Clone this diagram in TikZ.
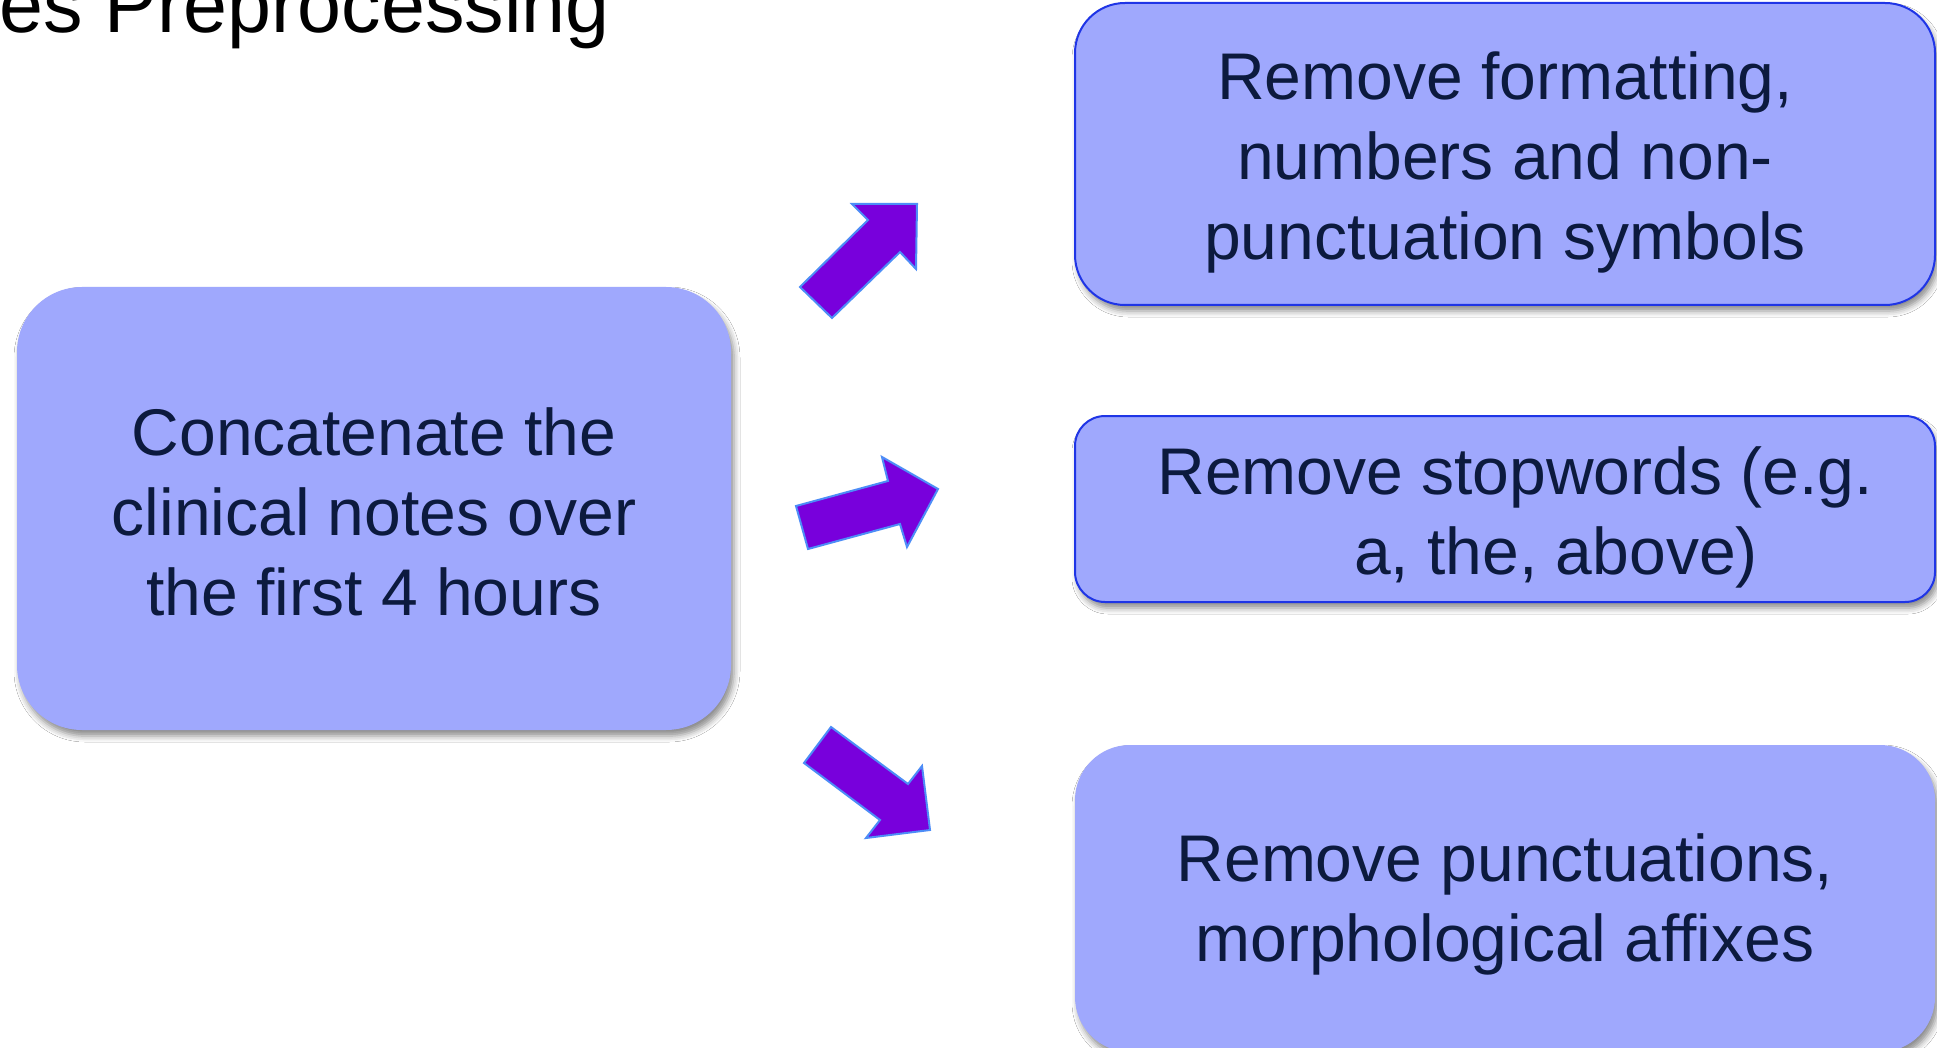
\documentclass[tikz,border=0pt]{standalone}
\usepackage{fontspec}
\setmainfont{Liberation Sans}
\usetikzlibrary{shadows.blur}

\definecolor{boxfill}{HTML}{9FA8FD}
\definecolor{boxline}{HTML}{1F35E6}
\definecolor{inktext}{HTML}{0C1A3E}
\definecolor{arrowfill}{HTML}{7800DC}
\definecolor{arrowline}{HTML}{4D8DF7}

\begin{document}
\begin{tikzpicture}[x=1pt,y=-1pt,
  stepbox/.style={fill=boxfill, inner sep=0pt,
    blur shadow={shadow xshift=3pt, shadow yshift=-6pt,
                 shadow blur radius=6pt, shadow opacity=45}},
  steptext/.style={text=inktext, align=center, inner sep=0pt,
    font=\fontsize{66}{80}\selectfont},
  outlined/.style={draw=boxline, line width=2pt},
  blockarrow/.style={fill=arrowfill, draw=arrowline, line width=2pt, line join=miter}
]
\useasboundingbox (0,0) rectangle (1937,1048);
\clip (0,0) rectangle (1937,1048);
\fill[white] (0,0) rectangle (1937,1048);

% slide title (partly outside the frame)
\node[font=\fontsize{79}{90}\selectfont, anchor=base east, inner sep=0pt] (title)
  at (610,33) {es Preprocessing};

% source step
\node[stepbox, minimum width=714pt, minimum height=443pt, rounded corners=65pt]
  (concat) at (374,508.5) {};
\node[steptext] (concattext) at ([yshift=-3pt]concat.center)
  {Concatenate the\\clinical notes over\\the first 4 hours};

% cleaning steps
\node[stepbox, outlined, minimum width=860pt, minimum height=302pt, rounded corners=50pt]
  (format) at (1505,154) {};
\node[steptext] (formattext) at ([yshift=-8pt]format.center)
  {Remove formatting,\\numbers and non-\\punctuation symbols};

\node[stepbox, outlined, minimum width=860pt, minimum height=186pt, rounded corners=30pt]
  (stop) at (1505,509) {};
\node[steptext] (stoptext) at ([yshift=-8pt]stop.center)
  {\hspace*{20pt}Remove stopwords (e.g.\\\hspace*{102pt}a, the, above)};

\node[stepbox, minimum width=860pt, minimum height=307pt, rounded corners=55pt]
  (punct) at (1505,898.5) {};
\node[steptext] (puncttext) at ([yshift=-6pt]punct.center)
  {Remove punctuations,\\morphological affixes};

% block arrows
\draw[blockarrow] (800,287) -- (868,220) -- (852,204) -- (917,204) -- (916,269)
  -- (900,252) -- (832,318) -- cycle;
\draw[blockarrow] (796,506) -- (888,481) -- (882,457) -- (938,489) -- (907,547)
  -- (900,524) -- (808,549) -- cycle;
\draw[blockarrow] (831,727) -- (908,784) -- (922,766) -- (930,830) -- (866,838)
  -- (880,820) -- (804,763) -- cycle;
\end{tikzpicture}
\end{document}
